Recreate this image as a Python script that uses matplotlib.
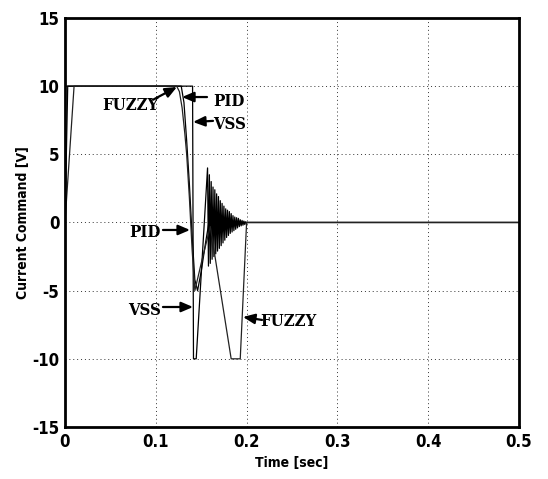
import matplotlib
matplotlib.use("Agg")
import matplotlib.pyplot as plt

plt.rcParams["axes.unicode_minus"] = False

# ---- data ----
pid_t = [0.0, 0.003, 0.128, 0.131, 0.134, 0.137, 0.140, 0.143, 0.146,
         0.150, 0.155, 0.159, 0.164, 0.170, 0.178, 0.188, 0.200, 0.500]
pid_v = [0.0, 10.0, 10.0, 8.8, 6.0, 2.8, -1.0, -4.2, -5.0,
         -3.6, -1.4, 0.2, 0.5, 0.1, -0.2, 0.05, 0.0, 0.0]

fuzzy_t = [0.0, 0.010, 0.123, 0.126, 0.129, 0.132, 0.134, 0.137, 0.140,
           0.143, 0.150, 0.160, 0.183, 0.193, 0.200, 0.500]
fuzzy_v = [0.0, 10.0, 10.0, 9.6, 8.4, 6.5, 5.0, 1.8, -2.0,
           -5.0, -3.0, -0.3, -10.0, -10.0, 0.0, 0.0]

vss_t = [0.0, 0.0005, 0.1405, 0.1415, 0.1445, 0.157,
         0.158, 0.159, 0.160, 0.161, 0.162, 0.163, 0.164, 0.165, 0.166,
         0.167, 0.168, 0.169, 0.170, 0.171, 0.172, 0.173, 0.174, 0.175,
         0.176, 0.177, 0.178, 0.179, 0.180, 0.181, 0.182, 0.183, 0.184,
         0.185, 0.186, 0.187, 0.188, 0.189, 0.190, 0.191, 0.192, 0.193,
         0.194, 0.195, 0.196, 0.197, 0.198, 0.199, 0.200, 0.201, 0.500]
vss_v = [0.0, 10.0, 10.0, -10.0, -10.0, 4.0,
         -3.2, 3.5, -3.0, 3.0, -2.7, 2.6, -2.5, 2.4, -2.3,
         2.1, -2.1, 1.9, -1.9, 1.6, -1.7, 1.4, -1.5, 1.2,
         -1.3, 1.0, -1.1, 0.9, -0.95, 0.8, -0.8, 0.65, -0.7,
         0.5, -0.6, 0.4, -0.5, 0.35, -0.4, 0.3, -0.3, 0.2,
         -0.25, 0.15, -0.2, 0.1, -0.15, 0.05, -0.05, 0.0, 0.0]

x_ticks = [0, 0.1, 0.2, 0.3, 0.4, 0.5]
x_labels = ["0", "0.1", "0.2", "0.3", "0.4", "0.5"]
y_ticks = [-15, -10, -5, 0, 5, 10, 15]

# (label, text pos, arrow tail, arrow head)
notes = [
    ("FUZZY", (0.0716, 8.55), (0.0969, 9.0), (0.1233, 9.94)),
    ("PID", (0.1806, 8.9), (0.1564, 9.2), (0.1289, 9.2)),
    ("VSS", (0.1817, 7.15), (0.1630, 7.45), (0.1410, 7.37)),
    ("PID", (0.0881, -0.77), (0.1079, -0.55), (0.1377, -0.55)),
    ("VSS", (0.0881, -6.42), (0.1079, -6.2), (0.1410, -6.2)),
    ("FUZZY", (0.2456, -7.3), (0.2170, -7.15), (0.1960, -6.93)),
]

sans = ["Liberation Sans Narrow", "DejaVu Sans"]
serif = ["DejaVu Serif", "Liberation Serif"]

fig = plt.figure(figsize=(5.48, 4.79), dpi=100)
ax = fig.add_axes([0.1186, 0.1086, 0.8285, 0.8539])

ax.plot(vss_t, vss_v, color="black", lw=0.9)
ax.plot(pid_t, pid_v, color="black", lw=0.9)
ax.plot(fuzzy_t, fuzzy_v, color="#222222", lw=0.9)

for label, tpos, tail, head in notes:
    ax.text(tpos[0], tpos[1], label, family=serif, fontweight="bold",
            fontstretch="condensed", fontsize=12, ha="center", va="center")
    ax.annotate("", xy=head, xytext=tail,
                arrowprops=dict(arrowstyle="-|>,head_length=0.7,head_width=0.3",
                                color="black", lw=1.6, shrinkA=0, shrinkB=0))

ax.set_xlim(0, 0.5)
ax.set_ylim(-15, 15)
ax.set_xticks(x_ticks)
ax.set_xticklabels(x_labels)
ax.set_yticks(y_ticks)
ax.grid(True, color="#333333", linestyle=(0, (1, 3)), lw=0.7)
ax.tick_params(direction="in", length=0, pad=4)
for lab in ax.get_xticklabels() + ax.get_yticklabels():
    lab.set_family(sans)
    lab.set_fontweight("bold")
    lab.set_fontstretch("condensed")
    lab.set_fontsize(12)
for sp in ax.spines.values():
    sp.set_linewidth(2)

ax.set_xlabel("Time [sec]", family=sans, fontweight="bold", fontstretch="condensed",
              fontsize=10, labelpad=4)
ax.set_ylabel("Current Command [V]", family=sans, fontweight="bold", fontstretch="condensed",
              fontsize=10, labelpad=2)

fig.savefig("out.png", dpi=100)
